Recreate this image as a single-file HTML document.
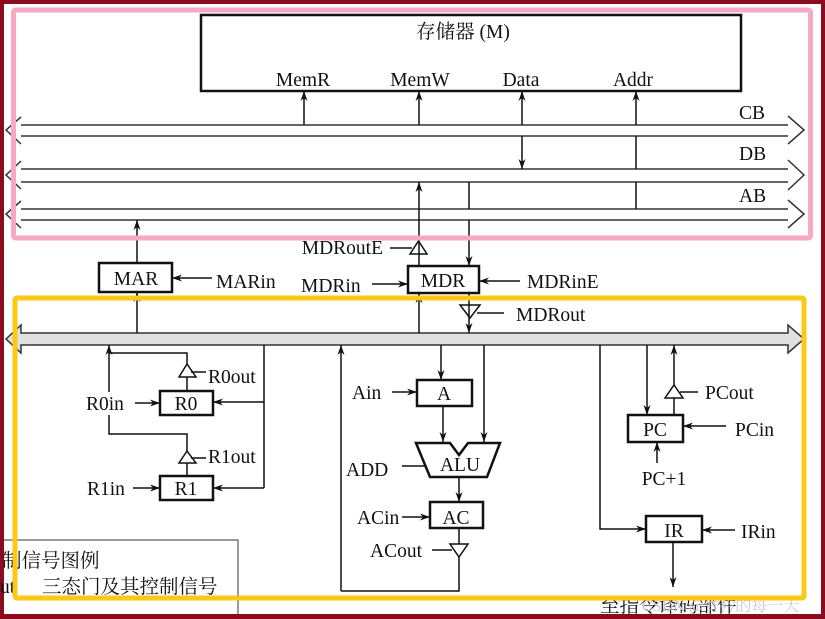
<!DOCTYPE html>
<html><head><meta charset="utf-8"><style>
html,body{margin:0;padding:0;background:#fff;}
svg{display:block;}
text{font-family:"Liberation Serif","Noto Serif CJK SC",serif;font-size:19.5px;fill:#111;}
.cj{font-family:"Liberation Serif","Noto Serif CJK SC",serif;}
</style></head><body>
<svg width="825" height="619" viewBox="0 0 825 619" xmlns="http://www.w3.org/2000/svg">
<defs>
<marker id="a" viewBox="0 0 10 10" refX="10" refY="5" markerWidth="10" markerHeight="10" markerUnits="userSpaceOnUse" orient="auto"><path d="M0,1.5 L10,5 L0,8.5 L3,5 z" fill="#111"/></marker>
</defs>
<rect x="0" y="0" width="825" height="619" fill="#8a0c1f"/>
<rect x="4" y="4" width="817" height="610" fill="#fff"/>

<g stroke="#111" stroke-width="1.5" fill="none">
<rect x="201" y="15" width="540" height="76" stroke-width="2.5"/>
<g stroke="#333">
<path d="M21,125 H788 M21,136 H788 M21,117 L6,130 L21,144 M788,116 L804,130 L788,144"/>
<path d="M21,169 H788 M21,182 H788 M21,161 L6,175 L21,189 M788,160 L804,175 L788,190"/>
<path d="M21,209 H788 M21,220 H788 M21,201 L6,214 L21,228 M788,200 L804,214 L788,228"/>
</g>
<path d="M21,333 H788 L788,325 L804,339 L788,353 L788,345 H21 L21,353 L6,339 L21,325 Z" fill="#e0e0e0" stroke="#333"/>
<path d="M304,125 V91" marker-end="url(#a)"/>
<path d="M419,125 V91" marker-end="url(#a)"/>
<path d="M522,125 V91" marker-end="url(#a)"/>
<path d="M636,125 V91" marker-end="url(#a)"/>
<path d="M522,136 V169" marker-end="url(#a)"/>
<path d="M636,136 V169 M636,182 V209"/>
<rect x="99" y="263" width="73" height="29" stroke-width="2.5"/>
<path d="M137,263 V220" marker-end="url(#a)"/>
<path d="M137,333 V292" marker-end="url(#a)"/>
<path d="M212,278 H172" marker-end="url(#a)"/>
<rect x="408" y="266" width="71" height="27" stroke-width="2.5"/>
<path d="M419,254 V182" marker-end="url(#a)"/>
<path d="M419,266 V254"/>
<path d="M410,254 L427,254 L418.5,241 Z"/>
<path d="M390,248 H412"/>
<path d="M469,182 V209 M469,220 V266" marker-end="url(#a)"/>
<path d="M372,284 H408" marker-end="url(#a)"/>
<path d="M520,281 H479" marker-end="url(#a)"/>
<path d="M419,333 V293" marker-end="url(#a)"/>
<path d="M469,293 V333" marker-end="url(#a)"/>
<path d="M460,305 L480,305 L470,318 Z"/>
<path d="M477,313 H504"/>
<rect x="160" y="391" width="53" height="24" stroke-width="2.5"/>
<rect x="160" y="476" width="53" height="24" stroke-width="2.5"/>
<path d="M109,392 V345" marker-end="url(#a)"/>
<path d="M109,353 H187 V364 M187,377 V391 M109,415 V434 H187 V451 M187,463 V476"/>
<path d="M179,377 L196,377 L187,364 Z M179,463 L196,463 L187,451 Z"/>
<path d="M191,372 H206 M191,458 H206"/>
<path d="M264,345 V488"/>
<path d="M264,402 H213" marker-end="url(#a)"/>
<path d="M264,488 H213" marker-end="url(#a)"/>
<path d="M135,403 H160" marker-end="url(#a)"/>
<path d="M133,488 H160" marker-end="url(#a)"/>
<path d="M341,591 V345" marker-end="url(#a)"/>
<path d="M341,591 H459 V557 M459,544 V528"/>
<path d="M450,544 L468,544 L459,557 Z"/>
<path d="M432,550 H452"/>
<rect x="417" y="380" width="55" height="26" stroke-width="2.5"/>
<path d="M441,345 V380" marker-end="url(#a)"/>
<path d="M484,345 V442" marker-end="url(#a)"/>
<path d="M443,406 V442" marker-end="url(#a)"/>
<path d="M392,392 H417" marker-end="url(#a)"/>
<path d="M416,443 L450,443 L459,455 L468,443 L500,443 L487,477 L430,477 Z" stroke-width="2.5"/>
<path d="M402,466 H425"/>
<path d="M459,477 V502" marker-end="url(#a)"/>
<rect x="430" y="502" width="53" height="26" stroke-width="2.5"/>
<path d="M402,517 H430" marker-end="url(#a)"/>
<path d="M600,345 V529 H646" marker-end="url(#a)"/>
<rect x="646" y="516" width="56" height="26" stroke-width="2.5"/>
<path d="M735,530 H702" marker-end="url(#a)"/>
<path d="M673,542 V587" marker-end="url(#a)"/>
<path d="M647,345 V415" marker-end="url(#a)"/>
<rect x="628" y="415" width="55" height="27" stroke-width="2.5"/>
<path d="M674,415 V398 M674,386 V345" marker-end="url(#a)"/>
<path d="M665,398 L683,398 L674,385 Z"/>
<path d="M680,392 H698"/>
<path d="M726,426 H683" marker-end="url(#a)"/>
<path d="M657,463 V442" marker-end="url(#a)"/>
<path d="M4,540 H238 V614" stroke="#333" stroke-width="1"/>
</g>

<text x="463" y="38" text-anchor="middle" class="cj">存储器 (M)</text>
<text x="303" y="86" text-anchor="middle">MemR</text>
<text x="420" y="86" text-anchor="middle">MemW</text>
<text x="521" y="86" text-anchor="middle">Data</text>
<text x="633" y="86" text-anchor="middle">Addr</text>
<text x="739" y="119">CB</text>
<text x="739" y="160">DB</text>
<text x="739" y="202">AB</text>
<text x="136" y="285" text-anchor="middle">MAR</text>
<text x="216" y="288">MARin</text>
<text x="443" y="287" text-anchor="middle">MDR</text>
<text x="301" y="292">MDRin</text>
<text x="527" y="288">MDRinE</text>
<text x="383" y="254" text-anchor="end">MDRoutE</text>
<text x="516" y="321">MDRout</text>
<text x="186" y="410" text-anchor="middle">R0</text>
<text x="186" y="495" text-anchor="middle">R1</text>
<text x="86" y="410">R0in</text>
<text x="87" y="495">R1in</text>
<text x="208" y="383">R0out</text>
<text x="208" y="463">R1out</text>
<text x="444" y="400" text-anchor="middle">A</text>
<text x="352" y="399">Ain</text>
<text x="460" y="471" text-anchor="middle">ALU</text>
<text x="346" y="476">ADD</text>
<text x="456" y="524" text-anchor="middle">AC</text>
<text x="357" y="524">ACin</text>
<text x="370" y="557">ACout</text>
<text x="655" y="436" text-anchor="middle">PC</text>
<text x="705" y="399">PCout</text>
<text x="735" y="436">PCin</text>
<text x="664" y="485" text-anchor="middle">PC+1</text>
<text x="674" y="537" text-anchor="middle">IR</text>
<text x="741" y="538">IRin</text>
<text x="2" y="567" class="cj">制信号图例</text>
<text x="0" y="593">ut</text>
<text x="42" y="593" class="cj">三态门及其控制信号</text>
<text x="600" y="612" class="cj">至指令译码部件</text>
<text x="642" y="611" class="cj" style="fill:#ccc;font-size:16px">CSDN @青衿的每一天</text>

<rect x="13.5" y="10" width="797" height="228" fill="none" stroke="#f7a8c2" stroke-width="5" rx="2"/>
<rect x="15" y="298" width="789" height="300" fill="none" stroke="#ffc816" stroke-width="5" rx="2"/>
</svg>
</body></html>
